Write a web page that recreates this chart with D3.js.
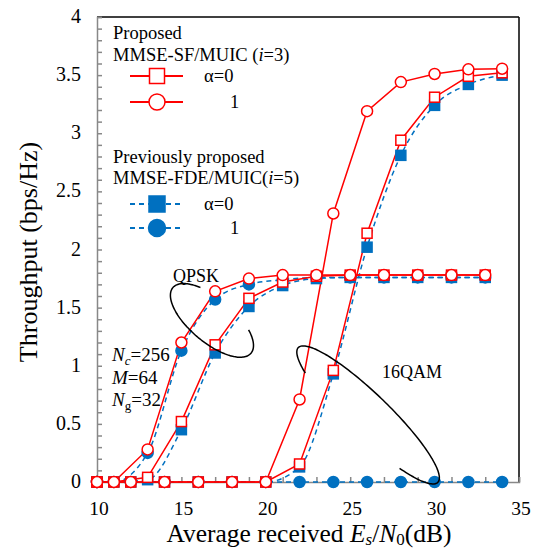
<!DOCTYPE html>
<html>
<head>
<meta charset="utf-8">
<script src="https://cdn.jsdelivr.net/npm/d3@7"></script>
</head>
<body style="margin:0;background:#fff">
<div id="chart"></div>
<script>
// data
const xQpsk = [10, 11, 13, 15, 17, 19, 21, 23, 25, 27, 29, 31, 33];
const qpskPropA0 = [0, 0, 0.04, 0.52, 1.18, 1.58, 1.72, 1.77, 1.78, 1.78, 1.78, 1.78, 1.78];
const qpskPropA1 = [0, 0, 0.28, 1.2, 1.64, 1.75, 1.78, 1.78, 1.78, 1.78, 1.78, 1.78, 1.78];
const qpskPrevA0 = [0, 0, 0.02, 0.45, 1.11, 1.51, 1.69, 1.75, 1.76, 1.76, 1.76, 1.76, 1.76];
const qpskPrevA1 = [0, 0, 0.25, 1.13, 1.57, 1.70, 1.74, 1.76, 1.76, 1.76, 1.76, 1.76, 1.76];

const xQam = [10, 12, 14, 16, 18, 20, 22, 24, 26, 28, 30, 32, 34];
const qamPropA0 = [0, 0, 0, 0, 0, 0, 0.155, 0.96, 2.14, 2.94, 3.31, 3.49, 3.52];
const qamPropA1 = [0, 0, 0, 0, 0, 0, 0.71, 2.31, 3.19, 3.44, 3.51, 3.55, 3.555];
const qamPrevA0 = [0, 0, 0, 0, 0, 0, 0.13, 0.93, 2.02, 2.81, 3.24, 3.42, 3.50];
const qamPrevA1 = [0, 0, 0, 0, 0, 0, 0, 0, 0, 0, 0, 0, 0];

const xTicks = [10, 15, 20, 25, 30, 35];
const yTicks = [0, 0.5, 1, 1.5, 2, 2.5, 3, 3.5, 4];

const W = 541, H = 549;
const red = "#ff0000", blue = "#0070c0";

const svg = d3.select("#chart").append("svg")
  .attr("width", W).attr("height", H);

const x = d3.scaleLinear().domain([10, 35]).range([97, 519]);
const y = d3.scaleLinear().domain([0, 4]).range([482, 17]);

// frame
svg.append("line").attr("x1", 97).attr("x2", 519).attr("y1", 17).attr("y2", 17)
  .attr("stroke", "#000").attr("stroke-width", 1.5);
svg.append("line").attr("x1", 519).attr("x2", 519).attr("y1", 17).attr("y2", 482)
  .attr("stroke", "#000").attr("stroke-width", 1.5);

// axes with inner ticks
const yAxis = svg.append("g").attr("transform", "translate(97,0)")
  .call(d3.axisRight(y).tickValues(d3.range(0, 4.001, 0.1)).tickSize(5).tickFormat(""));
const xAxis = svg.append("g").attr("transform", "translate(0,482)")
  .call(d3.axisTop(x).tickValues(d3.range(10, 35.001, 1)).tickSize(5).tickFormat(""));
[xAxis, yAxis].forEach(g => {
  g.selectAll("path, line").attr("stroke", "#888").attr("stroke-width", 1.5);
});

svg.selectAll(".ylab").data(yTicks).enter().append("text")
  .attr("x", 81).attr("y", d => y(d) + 6)
  .attr("text-anchor", "end").style("font-size", "20px")
  .text(d => d);
svg.selectAll(".xlab").data(xTicks).enter().append("text")
  .attr("x", d => x(d) + 2).attr("y", 515)
  .attr("text-anchor", "middle").style("font-size", "19.5px")
  .text(d => d);

// axis titles
svg.append("text")
  .attr("transform", "translate(37,252) rotate(-90)")
  .attr("text-anchor", "middle").style("font-size", "26px")
  .text("Throughput (bps/Hz)");

const xt = svg.append("text").attr("x", 309).attr("y", 542)
  .attr("text-anchor", "middle").style("font-size", "25.5px");
xt.append("tspan").text("Average received ");
xt.append("tspan").style("font-style", "italic").text("E");
xt.append("tspan").style("font-style", "italic").style("font-size", "17px").attr("dy", 3).text("s");
xt.append("tspan").attr("dy", -3).text("/");
xt.append("tspan").style("font-style", "italic").text("N");
xt.append("tspan").style("font-size", "17px").attr("dy", 3).text("0");
xt.append("tspan").attr("dy", -3).text("(dB)");

// series
const series = [
  { xs: xQam, ys: qamPrevA1, color: blue, dash: "5,4", shape: "circle", fill: blue },
  { xs: xQam, ys: qamPrevA0, color: blue, dash: "5,4", shape: "square", fill: blue },
  { xs: xQpsk, ys: qpskPrevA1, color: blue, dash: "5,4", shape: "circle", fill: blue },
  { xs: xQpsk, ys: qpskPrevA0, color: blue, dash: "5,4", shape: "square", fill: blue },
  { xs: xQam, ys: qamPropA0, color: red, dash: null, shape: "square", fill: "#fff" },
  { xs: xQam, ys: qamPropA1, color: red, dash: null, shape: "circle", fill: "#fff" },
  { xs: xQpsk, ys: qpskPropA0, color: red, dash: null, shape: "square", fill: "#fff" },
  { xs: xQpsk, ys: qpskPropA1, color: red, dash: null, shape: "circle", fill: "#fff" }
];

const plot = svg.append("g");

series.forEach(s => {
  const pts = s.xs.map((v, i) => [v, s.ys[i]]);
  const line = d3.line().x(d => x(d[0])).y(d => y(d[1]))
    .curve(s.dash ? d3.curveMonotoneX : d3.curveLinear);
  plot.append("path").datum(pts)
    .attr("d", line).attr("fill", "none")
    .attr("stroke", s.color).attr("stroke-width", 1.5)
    .attr("stroke-dasharray", s.dash);
});
series.forEach(s => {
  const pts = s.xs.map((v, i) => [v, s.ys[i]]);
  const g = plot.append("g");
  if (s.shape === "square") {
    const sz = 10;
    g.selectAll("rect").data(pts).enter().append("rect")
      .attr("x", d => x(d[0]) - sz / 2).attr("y", d => y(d[1]) - sz / 2)
      .attr("width", sz).attr("height", sz)
      .attr("fill", s.fill).attr("stroke", s.color).attr("stroke-width", 1.5);
  } else {
    g.selectAll("circle").data(pts).enter().append("circle")
      .attr("cx", d => x(d[0])).attr("cy", d => y(d[1])).attr("r", 5.5)
      .attr("fill", s.fill).attr("stroke", s.color).attr("stroke-width", 1.5);
  }
});

// ellipse annotations (open arcs)
function ellipseArc(cx, cy, a, b, rotDeg, t0, t1) {
  const th = rotDeg * Math.PI / 180;
  const pts = d3.range(t0, t1 + 0.5, 2).map(t => {
    const r = t * Math.PI / 180;
    const u = a * Math.cos(r), v = b * Math.sin(r);
    return [cx + u * Math.cos(th) - v * Math.sin(th), cy + u * Math.sin(th) + v * Math.cos(th)];
  });
  return d3.line().curve(d3.curveBasis)(pts);
}
svg.append("path")
  .attr("d", ellipseArc(x(16.81), y(1.39), 51, 22, 40, -48, 235))
  .attr("fill", "none").attr("stroke", "#000").attr("stroke-width", 1.5);
svg.append("path")
  .attr("d", ellipseArc(x(26.06), y(0.577), 97, 21, 44, 140, 413))
  .attr("fill", "none").attr("stroke", "#000").attr("stroke-width", 1.5);

svg.append("text").attr("x", 173).attr("y", 282).style("font-size", "18px").text("QPSK");
svg.append("text").attr("x", 382).attr("y", 378).style("font-size", "18px").text("16QAM");

// system parameters
const params = [["N", "c", "=256"], ["M", "", "=64"], ["N", "g", "=32"]];
params.forEach((p, i) => {
  const t = svg.append("text").attr("x", 112).attr("y", 361 + i * 22.5).style("font-size", "19px");
  t.append("tspan").style("font-style", "italic").text(p[0]);
  if (p[1]) {
    t.append("tspan").style("font-size", "13px").attr("dy", 4)
      .style("font-style", p[1] === "c" ? "italic" : "normal").text(p[1]);
    t.append("tspan").attr("dy", -4).text(p[2]);
  } else {
    t.append("tspan").text(p[2]);
  }
});

// legend
const leg = svg.append("g");
leg.append("text").attr("x", 113).attr("y", 39).style("font-size", "18.5px").text("Proposed");
const l2 = leg.append("text").attr("x", 113).attr("y", 61).style("font-size", "18.5px");
l2.append("tspan").text("MMSE-SF/MUIC (");
l2.append("tspan").style("font-style", "italic").text("i");
l2.append("tspan").text("=3)");
leg.append("text").attr("x", 113).attr("y", 163).style("font-size", "18.5px").text("Previously proposed");
const l4 = leg.append("text").attr("x", 113).attr("y", 184).style("font-size", "18.5px");
l4.append("tspan").text("MMSE-FDE/MUIC(");
l4.append("tspan").style("font-style", "italic").text("i");
l4.append("tspan").text("=5)");

const legItems = [
  { y: 76, color: red, dash: null, shape: "square", fill: "#fff", label: "α=0", lx: 204, sz: 15, r: 8 },
  { y: 102, color: red, dash: null, shape: "circle", fill: "#fff", label: "1", lx: 230, sz: 15, r: 8 },
  { y: 204, color: blue, dash: "5,4", shape: "square", fill: blue, label: "α=0", lx: 204, sz: 16, r: 8.5 },
  { y: 228, color: blue, dash: "5,4", shape: "circle", fill: blue, label: "1", lx: 230, sz: 16, r: 8.5 }
];
legItems.forEach(d => {
  leg.append("line").attr("x1", 130).attr("x2", 183).attr("y1", d.y).attr("y2", d.y)
    .attr("stroke", d.color).attr("stroke-width", 1.8).attr("stroke-dasharray", d.dash);
  if (d.shape === "square") {
    leg.append("rect").attr("x", 157 - d.sz / 2).attr("y", d.y - d.sz / 2)
      .attr("width", d.sz).attr("height", d.sz)
      .attr("fill", d.fill).attr("stroke", d.color).attr("stroke-width", 1.5);
  } else {
    leg.append("circle").attr("cx", 157).attr("cy", d.y).attr("r", d.r)
      .attr("fill", d.fill).attr("stroke", d.color).attr("stroke-width", 1.5);
  }
  leg.append("text").attr("x", d.lx).attr("y", d.y + 6).style("font-size", "18.5px").text(d.label);
});

// serif font on every text, set inline
svg.selectAll("text").style("font-family", "'Liberation Serif'");
</script>
</body>
</html>
